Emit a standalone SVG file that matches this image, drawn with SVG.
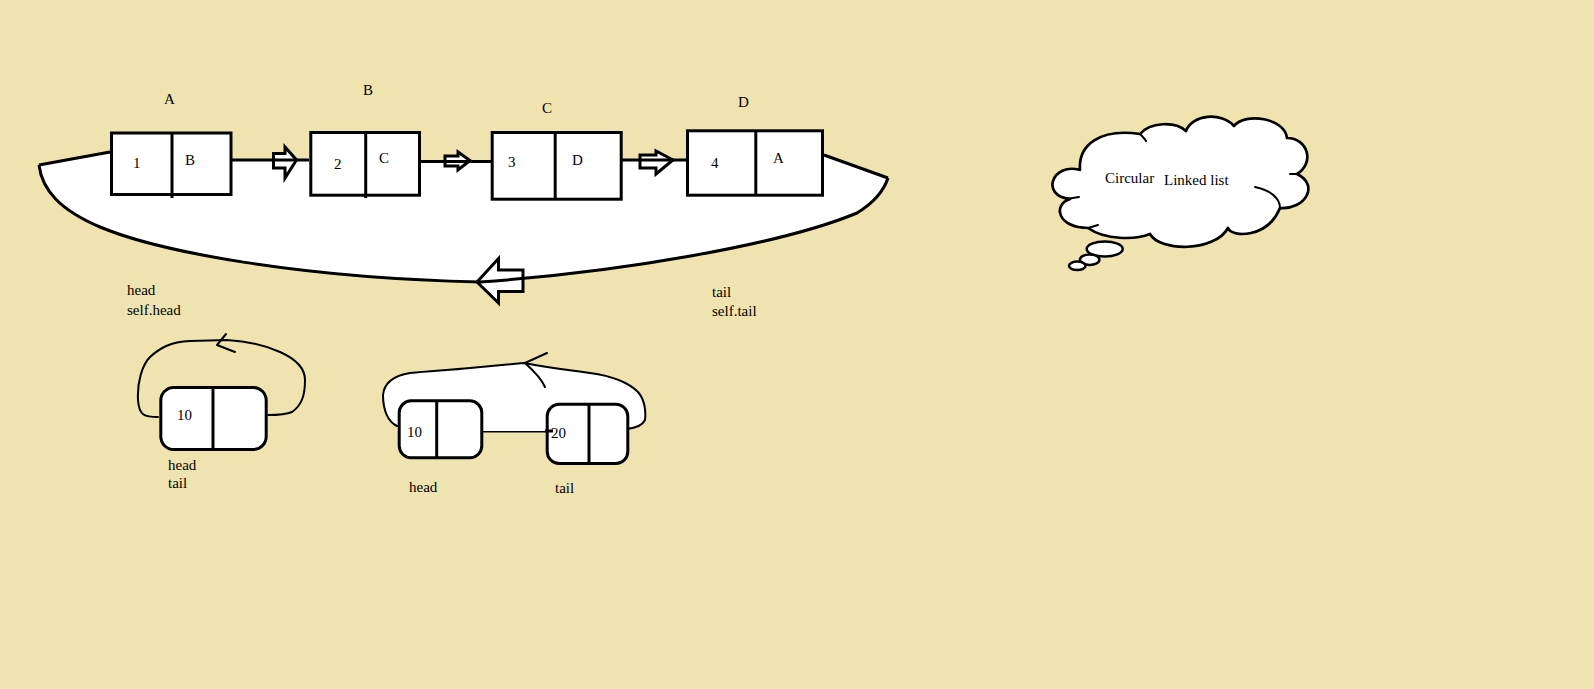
<svg xmlns="http://www.w3.org/2000/svg" width="1594" height="689" viewBox="0 0 1594 689">
<style>
.t{font-family:"Liberation Serif","Times New Roman",serif;font-size:15px;fill:#000}
.box{fill:#fff;stroke:#000;stroke-width:3}
.ln{fill:none;stroke:#000;stroke-width:3}
.thin{fill:none;stroke:#000;stroke-width:2;stroke-linejoin:round;stroke-linecap:round}
.arr{fill:#fff;stroke:#000;stroke-width:3;stroke-linejoin:miter}
</style>
<rect x="0" y="0" width="1594" height="689" fill="#efe4b0"/>

<g id="loop-region">
<path d="M39,165 C42,190 60,210 100,227 C160,252 300,278 480,282 C620,272 780,245 857,213 C875,202 884,190 888,178 L824,155 L824,161 L110,161 L110,152 Z" fill="#fff" stroke="none"/>
</g>

<g id="arrows">
<polygon class="arr" points="273.5,153.5 285,153.5 285,147 296.5,160 285,178 285,168 273.5,168"/>
<polygon class="arr" points="445,156 458,156 458,152 470,160.5 458,170 458,166 445,166" stroke-width="2.5"/>
<polygon class="arr" points="640,155 656,155 656,151 673,160 656,174 656,168 640,168"/>
<polygon class="arr" points="523,270 498.5,270 498.5,258.5 477,282 498.5,303 498.5,291.5 523,291.5"/>
</g>

<g id="connectors">
<path class="ln" d="M39,165 C42,190 60,210 100,227 C160,252 300,278 480,282 C620,272 780,245 857,213 C875,202 884,190 888,178" stroke-width="2.7"/>
<line class="ln" x1="39" y1="165" x2="110" y2="152"/>
<line class="ln" x1="824" y1="155" x2="888" y2="178"/>
<line class="ln" x1="232" y1="160" x2="309" y2="160"/>
<line class="ln" x1="421" y1="161.5" x2="491" y2="161.5"/>
<line class="ln" x1="622" y1="160" x2="686" y2="160"/>
<line class="ln" x1="483" y1="431" x2="552" y2="431"/>
</g>

<g id="node-A">
<rect class="box" x="111.5" y="133" width="119.5" height="61.5"/>
<line class="ln" x1="172" y1="133" x2="172" y2="198"/>
<text class="t" x="164" y="104">A</text>
<text class="t" x="133" y="168">1</text>
<text class="t" x="185" y="165">B</text>
</g>
<g id="node-B">
<rect class="box" x="310.8" y="132.5" width="108.7" height="62.7"/>
<line class="ln" x1="365.7" y1="132.5" x2="365.7" y2="198"/>
<text class="t" x="363" y="95">B</text>
<text class="t" x="334" y="169">2</text>
<text class="t" x="379" y="163">C</text>
</g>
<g id="node-C">
<rect class="box" x="492.2" y="132.5" width="129" height="66.7"/>
<line class="ln" x1="555.2" y1="132.5" x2="555.2" y2="199"/>
<text class="t" x="542" y="113">C</text>
<text class="t" x="508" y="167">3</text>
<text class="t" x="572" y="165">D</text>
</g>
<g id="node-D">
<rect class="box" x="687.5" y="130.8" width="135" height="64.4"/>
<line class="ln" x1="755.8" y1="130.8" x2="755.8" y2="195"/>
<text class="t" x="738" y="107">D</text>
<text class="t" x="711" y="168">4</text>
<text class="t" x="773" y="163">A</text>
</g>

<g id="labels">
<text class="t" x="127" y="295">head</text>
<text class="t" x="127" y="315">self.head</text>
<text class="t" x="712" y="297">tail</text>
<text class="t" x="712" y="316">self.tail</text>
</g>

<g id="cloud">
<path d="M1080,170 C1052,162 1040,196 1070,199 C1052,205 1058,228 1088,228 C1105,240 1135,240 1150,234 C1160,252 1215,252 1228,228 C1232,238 1268,238 1280,208 C1305,210 1320,185 1297,174 C1315,163 1308,138 1287,138 C1285,118 1245,112 1234,126 C1222,112 1192,114 1186,131 C1175,121 1150,122 1140,134 C1100,128 1078,145 1080,170 Z" fill="#fff" stroke="#000" stroke-width="2.7" stroke-linejoin="round"/>
<path class="thin" d="M1066,199 L1079,197 M1088,228 L1098,225 M1255,187 C1270,190 1280,198 1280,208 M1140,134 C1143,137 1145,139 1146,141 M1297,174 L1290,174" stroke-width="2.7"/>
<ellipse cx="1104.7" cy="249" rx="18" ry="7.5" fill="#fff" stroke="#000" stroke-width="2.5"/>
<ellipse cx="1089.7" cy="259.7" rx="9.7" ry="5.3" fill="#fff" stroke="#000" stroke-width="2.5"/>
<ellipse cx="1077.3" cy="265.8" rx="8.3" ry="4.2" fill="#fff" stroke="#000" stroke-width="2.5"/>
<text class="t" x="1105" y="183">Circular</text>
<text class="t" x="1164" y="185">Linked list</text>
</g>

<g id="single-node">
<path class="thin" d="M158,417 C145,417 139,416 138,400 C137,383 142,365 150,357 C160,348 170,342 190,341 L227,340 C245,341 262,344 280,352 C298,360 305,370 305,380 C305,395 302,405 292,412 C285,415 278,415 268,415" fill="#fff"/>
<path class="thin" d="M226,334 L217,345 L235,352"/>
<rect class="box" x="160.8" y="387.5" width="105.4" height="62" rx="13"/>
<line class="ln" x1="213" y1="387.5" x2="213" y2="449.5"/>
<text class="t" x="177" y="420">10</text>
<text class="t" x="168" y="470">head</text>
<text class="t" x="168" y="488">tail</text>
</g>

<g id="two-nodes">
<path d="M397,426 C388,422 383,410 383,395 C384,384 392,376 410,373 C430,371 450,370 470,368 L523,363 C540,366 560,369 590,373 C612,376 628,382 638,392 C645,400 646,412 645,420 C642,426 636,428 627,429 L627,431 L397,431 Z" fill="#fff" stroke="none"/>
<path class="thin" d="M397,426 C388,422 383,410 383,395 C384,384 392,376 410,373 C430,371 450,370 470,368 L523,363 C540,366 560,369 590,373 C612,376 628,382 638,392 C645,400 646,412 645,420 C642,426 636,428 627,429"/>
<path class="thin" d="M547,353 L525,363 C535,372 542,380 545,387"/>
<rect class="box" x="399.2" y="400.8" width="82.6" height="57" rx="12"/>
<line class="ln" x1="436.7" y1="400.8" x2="436.7" y2="457.8"/>
<rect class="box" x="547.2" y="404.2" width="80.6" height="59.3" rx="12"/>
<line class="ln" x1="589" y1="404.2" x2="589" y2="463.5"/>
<line class="ln" x1="545" y1="431" x2="553" y2="431"/>
<text class="t" x="407" y="437">10</text>
<text class="t" x="551" y="438">20</text>
<text class="t" x="409" y="492">head</text>
<text class="t" x="555" y="493">tail</text>
</g>
</svg>
